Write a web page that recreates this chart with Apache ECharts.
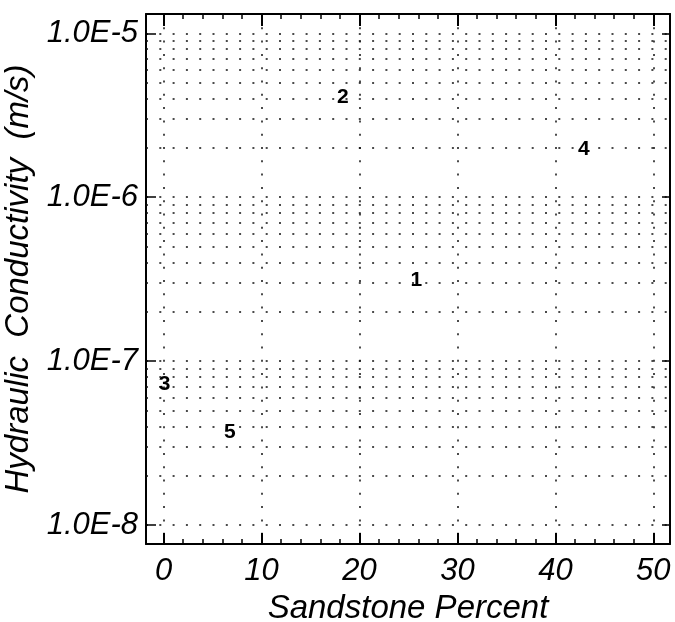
<!DOCTYPE html>
<html>
<head>
<meta charset="utf-8">
<script src="https://cdn.jsdelivr.net/npm/echarts@6/dist/echarts.min.js"></script>
<style>
html,body{margin:0;padding:0;background:#fff;}
#chart{width:675px;height:622px;}
</style>
</head>
<body>
<div id="chart"></div>
<script>
// ---- data ----
const sampleIds = ['1', '2', '3', '4', '5'];
const sandstonePercent = [25.8, 18.3, 0.1, 42.9, 6.75];
const conductivity = [3.1e-7, 4.05e-6, 7.2e-8, 1.97e-6, 3.67e-8];
const xTickValues = [0, 10, 20, 30, 40, 50];
const yTickLabels = ['1.0E-8', '1.0E-7', '1.0E-6', '1.0E-5'];
const yTickExponents = [-8, -7, -6, -5];
const minorMultipliers = [2, 3, 4, 5, 6, 7, 8, 9];
const minorDecades = [-8, -7, -6];

const xMin = -1.8, xMax = 51.7;
const yMin = Math.pow(10, -8.116), yMax = Math.pow(10, -4.882);

const minorLines = [];
minorDecades.forEach(d => minorMultipliers.forEach(m => minorLines.push({ yAxis: m * Math.pow(10, d) })));

const FONT = '"Liberation Sans", Arial, Helvetica, sans-serif';
const dotted = () => ({ color: '#111', width: 1.5, type: [2, 11.3], opacity: 1 });

const chart = echarts.init(document.getElementById('chart'));
const frameLine = { show: true, onZero: false, lineStyle: { color: '#000', width: 2 } };

chart.setOption({
  animation: false,
  backgroundColor: '#fff',
  grid: { left: 146, right: 5, top: 14, bottom: 78, containLabel: false, outerBoundsMode: 'none' },
  xAxis: [
    {
      type: 'value', position: 'bottom', min: xMin, max: xMax,
      axisLine: frameLine,
      axisTick: { show: true, inside: true, length: 11, lineStyle: { color: '#000', width: 2 } },
      minorTick: { show: true, splitNumber: 5, length: 5, lineStyle: { color: '#000', width: 1.5 } },
      axisLabel: {
        show: true, showMinLabel: false, showMaxLabel: false, margin: 12,
        color: '#000', fontFamily: FONT, fontStyle: 'italic', fontSize: 31,
        formatter: v => (xTickValues.indexOf(Math.round(v)) >= 0 && Math.abs(v - Math.round(v)) < 1e-6) ? String(Math.round(v)) : ''
      },
      splitLine: { show: true, lineStyle: dotted() },
      name: 'Sandstone Percent', nameLocation: 'middle', nameGap: 44,
      nameTextStyle: { color: '#000', fontFamily: FONT, fontStyle: 'italic', fontSize: 33 }
    },
    {
      type: 'value', position: 'top', min: xMin, max: xMax,
      axisLine: frameLine,
      axisTick: { show: true, inside: true, length: 12, lineStyle: { color: '#000', width: 2 } },
      minorTick: { show: true, splitNumber: 5, length: 5, lineStyle: { color: '#000', width: 1.5 } },
      axisLabel: { show: false },
      splitLine: { show: false }
    }
  ],
  yAxis: [
    {
      type: 'log', logBase: 10, position: 'left', min: yMin, max: yMax,
      axisLine: frameLine,
      axisTick: { show: true, inside: true, length: 10, lineStyle: { color: '#000', width: 1.5 } },
      axisLabel: {
        show: true, showMinLabel: false, showMaxLabel: false, margin: 8,
        color: '#000', fontFamily: FONT, fontStyle: 'italic', fontSize: 31,
        formatter: v => {
          const e = Math.log10(v);
          const r = Math.round(e);
          if (Math.abs(e - r) > 1e-6) return '';
          const i = yTickExponents.indexOf(r);
          return i >= 0 ? yTickLabels[i] : '';
        }
      },
      splitLine: { show: true, lineStyle: dotted() },
      name: 'Hydraulic  Conductivity  (m/s)', nameLocation: 'middle', nameGap: 96,
      nameTextStyle: { color: '#000', fontFamily: FONT, fontStyle: 'italic', fontSize: 33 }
    },
    {
      type: 'log', logBase: 10, position: 'right', min: yMin, max: yMax,
      axisLine: frameLine,
      axisTick: { show: true, inside: true, length: 8, lineStyle: { color: '#000', width: 1.5 } },
      axisLabel: { show: false },
      splitLine: { show: false }
    }
  ],
  series: [
    {
      type: 'scatter',
      name: 'samples',
      xAxisIndex: 0, yAxisIndex: 0,
      symbol: 'circle',
      symbolSize: 2,
      itemStyle: { color: 'rgba(255,255,255,0)' },
      data: sampleIds.map((id, i) => ({ name: id, value: [sandstonePercent[i], conductivity[i]] })),
      label: {
        show: true, position: 'inside', formatter: p => p.name,
        color: '#000', fontFamily: FONT, fontWeight: 'bold', fontSize: 21,
        textBorderWidth: 0, textBorderColor: 'transparent', opacity: 1
      },
      z: 5
    },
    {
      type: 'line',
      name: 'minorGrid',
      xAxisIndex: 0, yAxisIndex: 0,
      data: [],
      showSymbol: false,
      markLine: {
        silent: true, symbol: ['none', 'none'], label: { show: false },
        precision: 20,
        lineStyle: dotted(),
        emphasis: { disabled: true },
        data: minorLines
      }
    }
  ]
});
</script>
</body>
</html>
